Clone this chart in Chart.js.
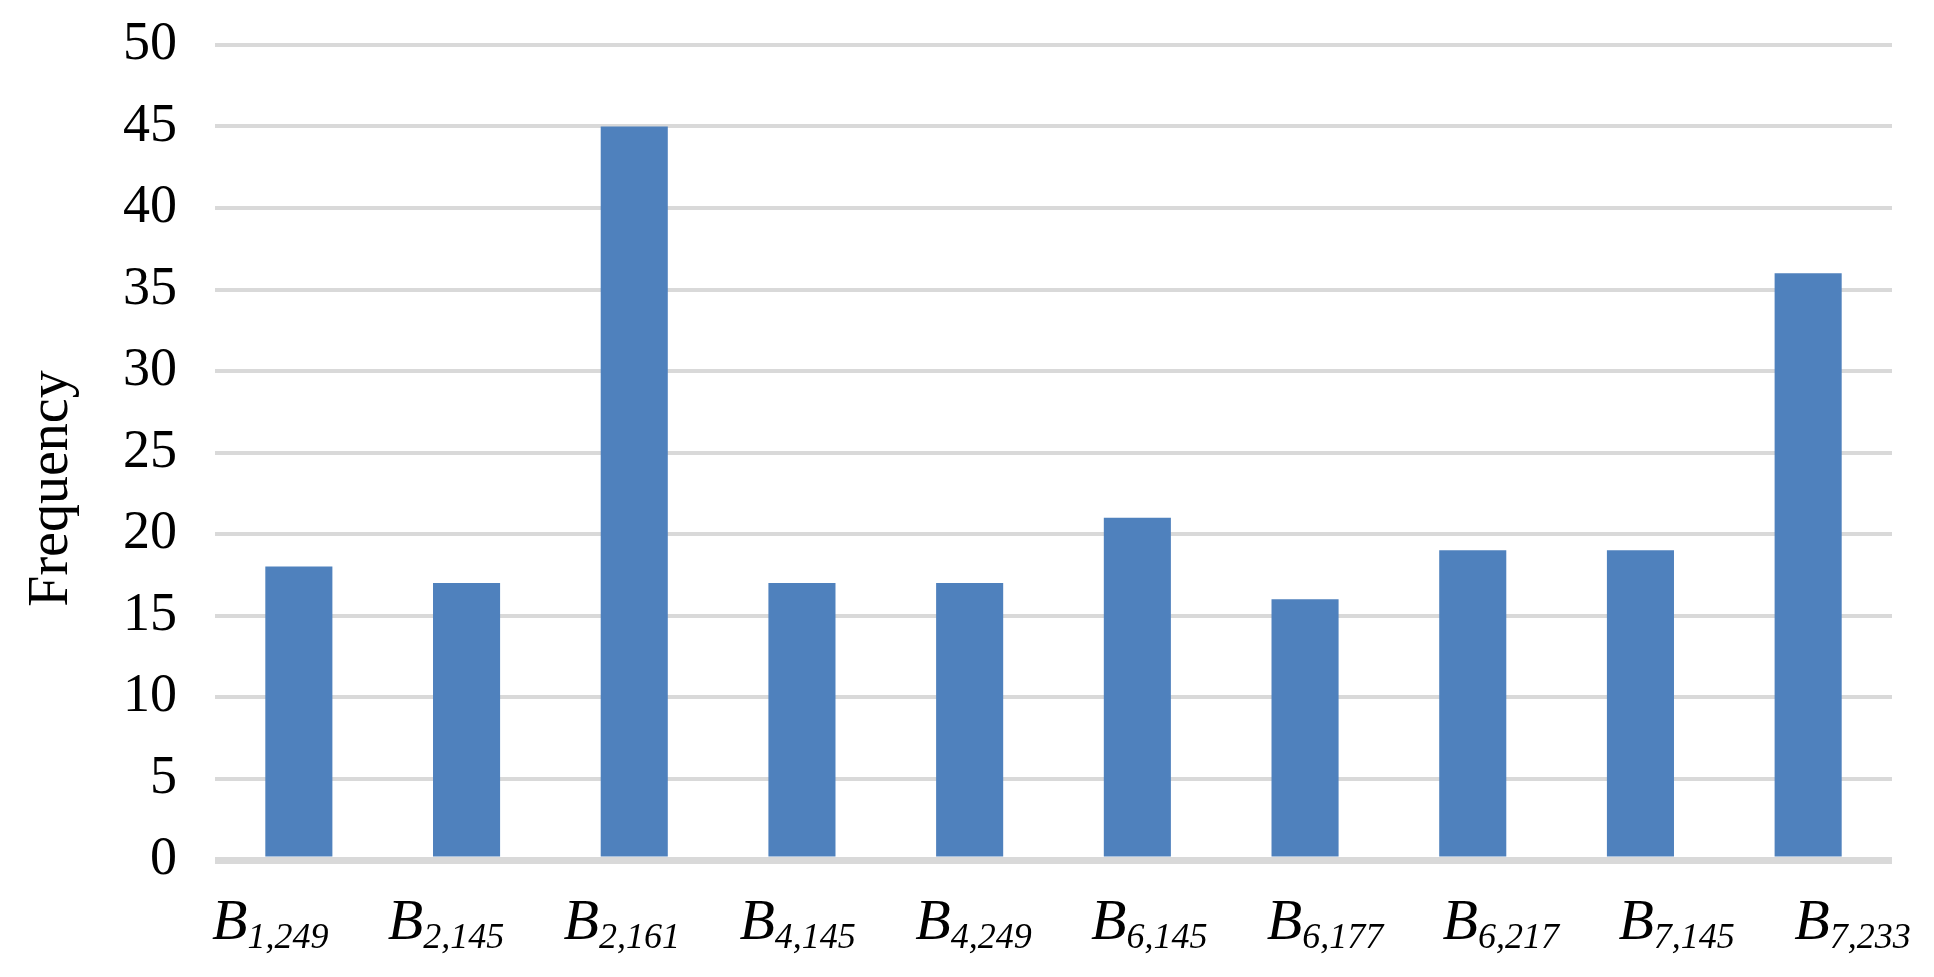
<!DOCTYPE html>
<html>
<head>
<meta charset="utf-8">
<script src="https://cdn.jsdelivr.net/npm/chart.js@4.4.1/dist/chart.umd.min.js"></script>
<style>
  html, body { margin: 0; padding: 0; background: #ffffff; }
  #wrap { width: 1934px; height: 977px; position: relative; }
</style>
</head>
<body>
<div id="wrap"><canvas id="c"></canvas></div>
<script>
// ---- data ----
const labelMain = ["B", "B", "B", "B", "B", "B", "B", "B", "B", "B"];
const labelSub = ["1,249", "2,145", "2,161", "4,145", "4,249", "6,145", "6,177", "6,217", "7,145", "7,233"];
const categories = labelMain.map((m, i) => m + labelSub[i]);
const frequency = [18, 17, 45, 17, 17, 21, 16, 19, 19, 36];
const yTicks = [0, 5, 10, 15, 20, 25, 30, 35, 40, 45, 50];
const yTitle = "Frequency";

const SERIF = "'Liberation Serif', 'Times New Roman', serif";

const overlay = {
  id: 'overlay',
  afterDraw(chart) {
    const ctx = chart.ctx;
    const ca = chart.chartArea;
    const xs = chart.scales.x;
    ctx.save();
    ctx.fillStyle = '#000000';
    // subscripted category labels
    const step = ca.width * 0.10483;
    xs.ticks.forEach((t, i) => {
      const x0 = ca.left - 3 + i * step;
      ctx.font = "italic 58px " + SERIF;
      ctx.textAlign = 'left';
      ctx.textBaseline = 'alphabetic';
      ctx.fillText(labelMain[i], x0, ca.bottom + 79);
      const w = ctx.measureText(labelMain[i]).width;
      ctx.font = "italic 36px " + SERIF;
      ctx.fillText(labelSub[i], x0 + w, ca.bottom + 88);
    });
    // y title
    ctx.translate(45, (ca.top + ca.bottom) / 2 + 36);
    ctx.rotate(-Math.PI / 2);
    ctx.font = "56px " + SERIF;
    ctx.textAlign = 'center';
    ctx.textBaseline = 'middle';
    ctx.fillText(yTitle, 0, 7);
    ctx.restore();
  }
};

new Chart(document.getElementById('c'), {
  type: 'bar',
  data: {
    labels: categories,
    datasets: [{
      label: yTitle,
      data: frequency,
      backgroundColor: '#4f81bd',
      borderWidth: 0,
      barPercentage: 0.4,
      categoryPercentage: 1.0
    }]
  },
  options: {
    responsive: true,
    maintainAspectRatio: false,
    animation: false,
    devicePixelRatio: 1,
    layout: { padding: { top: 45, right: 42, bottom: 0, left: 0 } },
    plugins: {
      legend: { display: false },
      tooltip: { enabled: false },
      title: { display: false }
    },
    scales: {
      x: {
        type: 'category',
        offset: true,
        grid: { display: false },
        border: { display: false },
        ticks: { display: false },
        afterFit(scale) { scale.height = 117; }
      },
      y: {
        min: 0,
        max: 50,
        afterBuildTicks(scale) { scale.ticks = yTicks.map(v => ({ value: v })); },
        grid: {
          color: '#d9d9d9',
          lineWidth: (c) => (c.tick && c.tick.value === 0 ? 7 : 4),
          drawTicks: false
        },
        border: { display: false },
        ticks: {
          color: '#000000',
          padding: 38,
          font: { family: SERIF, size: 54 }
        },
        afterFit(scale) {
          scale.width = 215;
          scale.paddingTop = 0;
          scale.paddingBottom = 0;
        }
      }
    }
  },
  plugins: [overlay]
});
</script>
</body>
</html>
